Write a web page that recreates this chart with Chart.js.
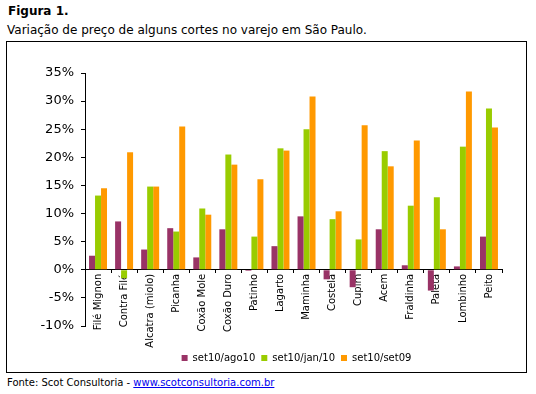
<!DOCTYPE html>
<html>
<head>
<meta charset="utf-8">
<script src="https://cdn.jsdelivr.net/npm/chart.js@4"></script>
<style>
  body { margin: 0; background: #fff; font-family: "DejaVu Sans", sans-serif; color: #000; }
  #wrap { position: relative; width: 536px; height: 394px; }
  .t1 { position: absolute; left: 8px; top: 4px; font-size: 12px; font-weight: bold; }
  .t2 { position: absolute; left: 7px; top: 23px; font-size: 12px; }
  #box { position: absolute; left: 6px; top: 41px; width: 519px; height: 330px; border: 1px solid #000; }
  #box canvas { position: absolute; left: 0; top: 0; }
  .src { position: absolute; left: 7px; top: 377px; font-size: 10px; }
  .src a { color: #0000ee; }
</style>
</head>
<body>
<div id="wrap">
  <div class="t1">Figura 1.</div>
  <div class="t2">Variação de preço de alguns cortes no varejo em São Paulo.</div>
  <div id="box"><canvas id="chart" width="519" height="330"></canvas></div>
  <div class="src">Fonte: Scot Consultoria - <a href="#">www.scotconsultoria.com.br</a></div>
</div>
<script>
// Cortes
const cortes = ['Filé Mignon', 'Contra Filé', 'Alcatra (miolo)', 'Picanha', 'Coxão Mole',
  'Coxão Duro', 'Patinho', 'Lagarto', 'Maminha', 'Costela', 'Cupim', 'Acem',
  'Fraldinha', 'Paleta', 'Lombinho', 'Peito'];

// Variação em %
const set10ago10 = [2.5, 8.6, 3.6, 7.4, 2.2, 7.2, -0.2, 4.2, 9.5, -1.7, -3.1, 7.2, 0.8, -3.7, 0.6, 5.9];
const set10jan10 = [13.2, -1.5, 14.8, 6.8, 10.9, 20.5, 5.9, 21.6, 25.0, 9.0, 5.4, 21.1, 11.4, 12.9, 21.9, 28.7];
const set10set09 = [14.5, 20.9, 14.8, 25.5, 9.8, 18.7, 16.1, 21.2, 30.8, 10.4, 25.7, 18.4, 23.0, 7.2, 31.7, 25.3];

Chart.defaults.font.family = '"DejaVu Sans", sans-serif';
Chart.defaults.color = '#000';

// move the legend under the plot, like the original
const moveLegend = {
  id: 'moveLegend',
  afterLayout(chart) {
    const l = chart.legend;
    l.left += 42; l.right += 42;
    l.top += 21; l.bottom += 21;
  }
};

new Chart(document.getElementById('chart'), {
  type: 'bar',
  data: {
    labels: cortes,
    datasets: [
      { label: 'set10/ago10', data: set10ago10, backgroundColor: '#993366' },
      { label: 'set10/jan/10', data: set10jan10, backgroundColor: '#99CC00' },
      { label: 'set10/set09', data: set10set09, backgroundColor: '#FF9900' }
    ]
  },
  plugins: [moveLegend],
  options: {
    responsive: false,
    animation: false,
    categoryPercentage: 0.69,
    barPercentage: 1,
    layout: { padding: { top: 31, right: 24, left: 0, bottom: 20 } },
    plugins: {
      tooltip: { enabled: false },
      legend: {
        position: 'bottom',
        labels: { boxWidth: 6, boxHeight: 6, padding: 6, font: { size: 10 } }
      }
    },
    scales: {
      x: {
        position: { y: 0 },
        grid: { drawOnChartArea: false, drawTicks: true, tickLength: 3, color: '#000' },
        border: { color: '#000' },
        ticks: { minRotation: 90, maxRotation: 90, font: { size: 10 }, padding: 1 }
      },
      y: {
        min: -10, max: 35,
        afterFit: s => { s.width = 78; },
        grid: { drawOnChartArea: false, drawTicks: true, tickLength: 4, color: '#000' },
        border: { color: '#000' },
        ticks: { stepSize: 5, font: { size: 13 }, padding: 7, callback: v => v + '%' }
      }
    }
  }
});
</script>
</body>
</html>
